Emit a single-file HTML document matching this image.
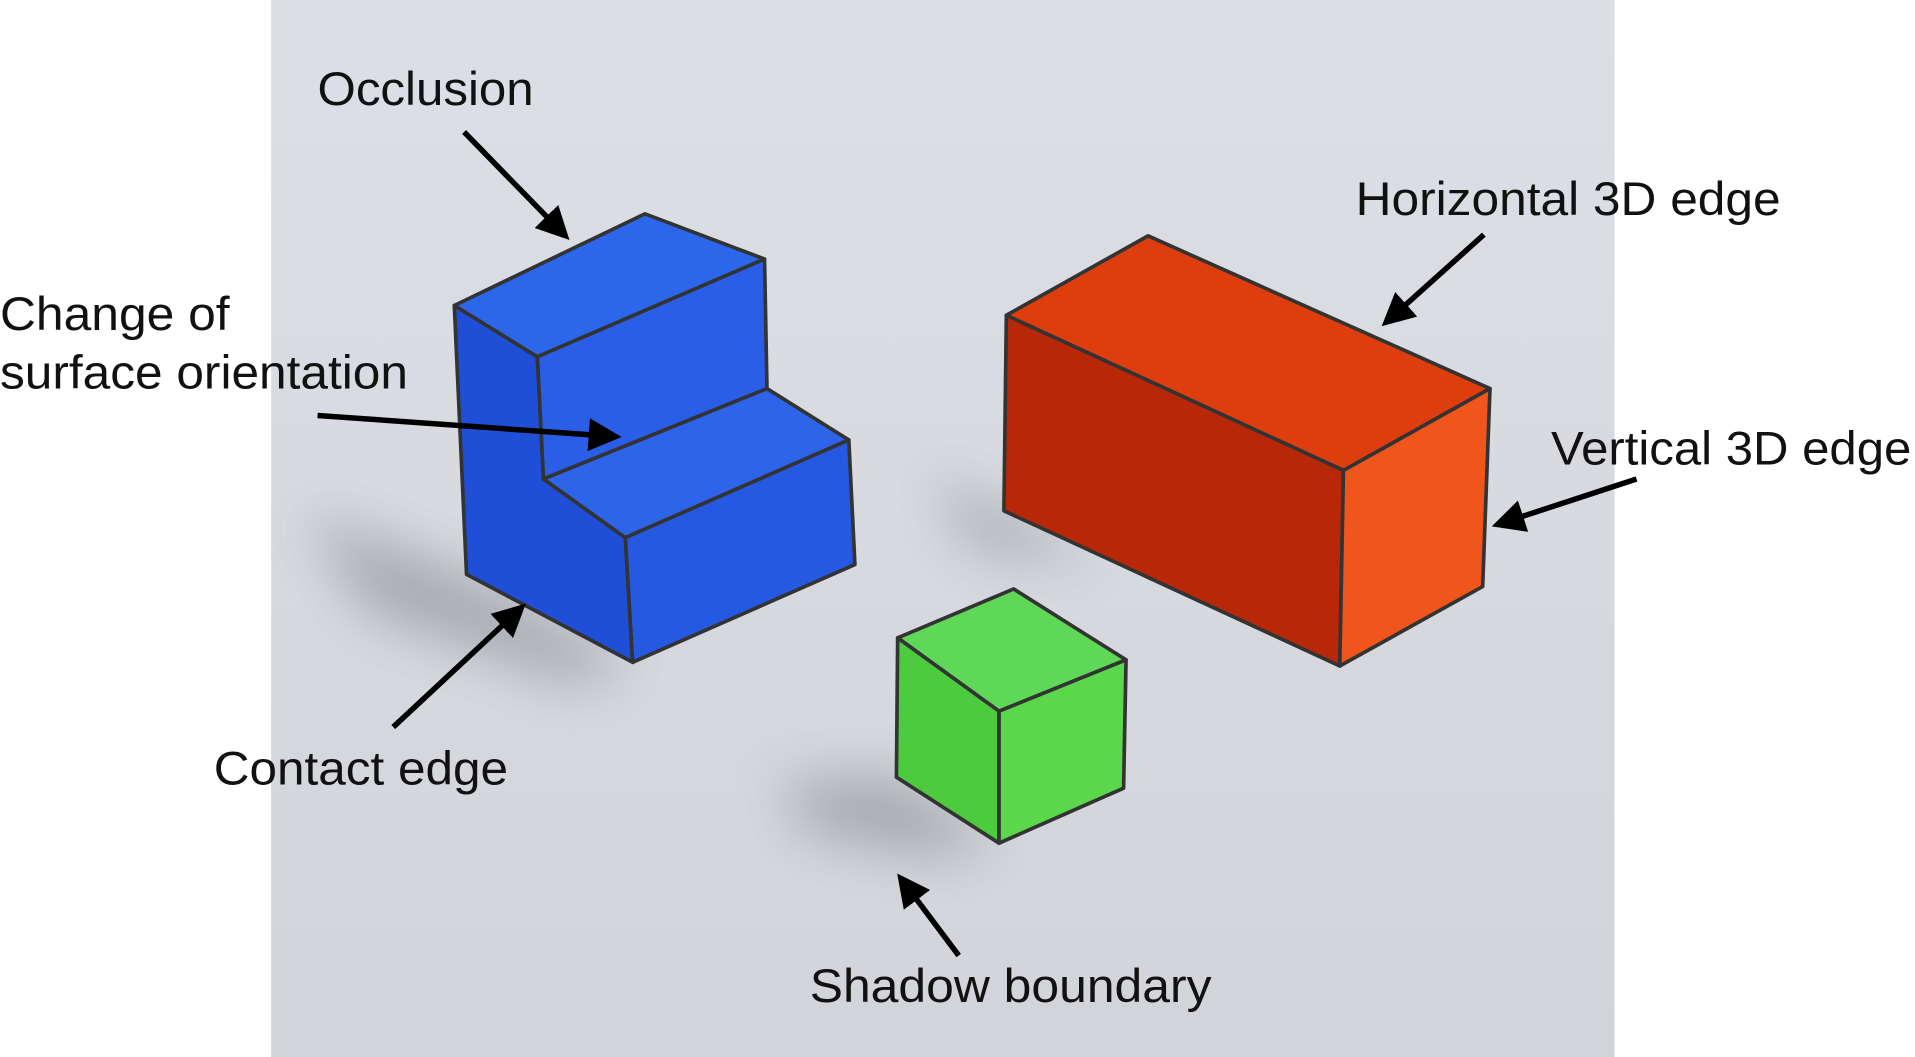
<!DOCTYPE html>
<html><head><meta charset="utf-8">
<style>
html,body{margin:0;padding:0;background:#fff;}
svg{display:block;}
text{font-family:"Liberation Sans",sans-serif;font-size:39px;fill:#111;}
</style></head>
<body>
<svg width="1915" height="1057" viewBox="0 0 1568 865" preserveAspectRatio="none">
<defs>
<linearGradient id="bg" x1="0" y1="0" x2="0" y2="1">
<stop offset="0" stop-color="#dcdfe5"/><stop offset="1" stop-color="#d2d4d9"/>
</linearGradient>
<filter id="blur" x="-50%" y="-50%" width="200%" height="200%"><feGaussianBlur stdDeviation="22"/></filter>
<marker id="ah" markerWidth="6" markerHeight="6" refX="4" refY="3" orient="auto" markerUnits="strokeWidth">
<path d="M0,0 L6,3 L0,6 Z" fill="#000"/>
</marker>
</defs>
<rect x="222" y="0" width="1100" height="865" fill="url(#bg)"/>
<g filter="url(#blur)" fill="#6a6e78" opacity="0.45">
<polygon points="250,420 382,470 518,542 470,560 300,500"/>
<polygon points="640,640 734,636 818,690 760,700 660,680"/>
<polygon points="760,390 822,418 900,460 800,450"/>
</g>
<g stroke="#333" stroke-width="3" stroke-linejoin="round">
<polygon points="372,250 440,292 445,392 512,440 518,542 382,470" fill="#1f4fd6"/>
<polygon points="372,250 528,175 626,212 440,292" fill="#2c66ea"/>
<polygon points="440,292 626,212 628,318 445,392" fill="#2a5ee6"/>
<polygon points="445,392 628,318 695,360 512,440" fill="#2d64ea"/>
<polygon points="512,440 695,360 700,462 518,542" fill="#2559e2"/>
</g>
<g stroke="#333" stroke-width="3" stroke-linejoin="round">
<polygon points="824,258 940,193 1220,318 1100,385" fill="#de3e0e"/>
<polygon points="824,258 1100,385 1097,545 822,418" fill="#b82808"/>
<polygon points="1100,385 1220,318 1214,480 1097,545" fill="#f0561c"/>
</g>
<g stroke="#333" stroke-width="3" stroke-linejoin="round">
<polygon points="735,522 830,482 922,540 818,582" fill="#5fd858"/>
<polygon points="735,522 818,582 818,690 734,636" fill="#4ccb3e"/>
<polygon points="818,582 922,540 920,645 818,690" fill="#5ad74a"/>
</g>
<g stroke="#000" stroke-width="4.5" marker-end="url(#ah)">
<line x1="380" y1="108" x2="460" y2="190"/>
<line x1="260" y1="340" x2="500" y2="357"/>
<line x1="1215" y1="192" x2="1138" y2="261"/>
<line x1="1340" y1="392" x2="1230" y2="428"/>
<line x1="322" y1="595" x2="424" y2="500"/>
<line x1="785" y1="782" x2="740" y2="722"/>
</g>
<text x="260" y="86" textLength="177" lengthAdjust="spacingAndGlyphs">Occlusion</text>
<text x="1110" y="176" textLength="348" lengthAdjust="spacingAndGlyphs">Horizontal 3D edge</text>
<text x="0" y="270" textLength="188" lengthAdjust="spacingAndGlyphs">Change of</text>
<text x="0" y="318" textLength="334" lengthAdjust="spacingAndGlyphs">surface orientation</text>
<text x="1270" y="380" textLength="295" lengthAdjust="spacingAndGlyphs">Vertical 3D edge</text>
<text x="175" y="642" textLength="241" lengthAdjust="spacingAndGlyphs">Contact edge</text>
<text x="663" y="820" textLength="329" lengthAdjust="spacingAndGlyphs">Shadow boundary</text>
</svg>
</body></html>
